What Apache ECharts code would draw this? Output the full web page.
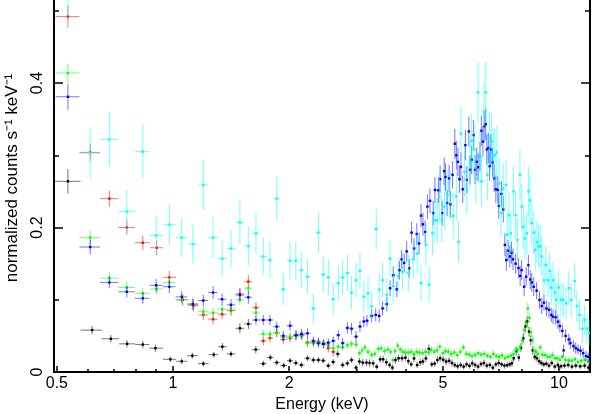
<!DOCTYPE html>
<html>
<head>
<meta charset="utf-8">
<script src="https://cdn.jsdelivr.net/npm/echarts@6/dist/echarts.min.js"></script>
<style>
  html, body { margin: 0; padding: 0; background: #fff; }
  #chart { width: 592px; height: 414px; }
</style>
</head>
<body>
<div id="chart"></div>
<script>
// energy (keV), normalized counts, 1-sigma error  -- one set per data group
const blackE = [
  0.534, 0.617, 0.69, 0.76, 0.835, 0.90, 0.984, 1.053, 1.122, 1.198,
  1.275, 1.342, 1.413, 1.49, 1.567, 1.638, 1.713, 1.787, 1.856, 1.935,
  2.01, 2.08, 2.15, 2.23, 2.31, 2.38, 2.45, 2.525, 2.6, 2.67,
  2.75, 2.83, 2.9, 2.98, 3.04, 3.1, 3.17, 3.23, 3.3, 3.37,
  3.44, 3.5, 3.57, 3.64, 3.7, 3.77, 3.84, 3.92, 4.0, 4.07,
  4.14, 4.21, 4.29, 4.37, 4.44, 4.52, 4.6, 4.68, 4.76, 4.84,
  4.92, 5.01, 5.1, 5.19, 5.28, 5.37, 5.46, 5.56, 5.66, 5.76,
  5.86, 5.96, 6.06, 6.17, 6.28, 6.39, 6.5, 6.62, 6.74, 6.86,
  6.98, 7.1, 7.22, 7.34, 7.45, 7.55, 7.63, 7.75, 7.87, 7.97,
  8.08, 8.18, 8.27, 8.36, 8.45, 8.55, 8.65, 8.76, 8.88, 9.0,
  9.13, 9.27, 9.42, 9.58, 9.75, 9.93, 10.12, 10.33, 10.56, 10.8,
  11.05, 11.35, 11.65, 11.92
];
const blackV = [
  0.264, 0.058, 0.046, 0.039, 0.038, 0.033, 0.0176, 0.0148, 0.0226, 0.0115,
  0.024, 0.035, 0.025, 0.0605, 0.0665, 0.031, 0.0115, 0.020, 0.013, 0.009,
  0.0157, 0.0125, 0.0097, 0.019, 0.0166, 0.0166, 0.0157, 0.0087, 0.0139, 0.025,
  0.0097, 0.012, 0.0166, 0.006, 0.0145, 0.013, 0.013, 0.0125, 0.012, 0.0073,
  0.0175, 0.0176, 0.0135, 0.0097, 0.006, 0.0166, 0.019, 0.019, 0.0199, 0.015,
  0.0106, 0.0188, 0.0097, 0.0135, 0.0145, 0.0188, 0.032, 0.0106, 0.0115, 0.0166,
  0.019, 0.017, 0.0145, 0.0155, 0.0125, 0.0097, 0.008, 0.0097, 0.0075, 0.0106,
  0.0085, 0.012, 0.0097, 0.0075, 0.011, 0.0125, 0.0088, 0.0097, 0.006, 0.0106,
  0.0125, 0.0106, 0.0088, 0.0095, 0.0106, 0.012, 0.019, 0.029, 0.02, 0.0337,
  0.0466, 0.063, 0.07, 0.056, 0.044, 0.03, 0.021, 0.019, 0.015, 0.0125,
  0.0106, 0.0115, 0.0088, 0.0125, 0.0075, 0.0097, 0.008, 0.0088, 0.0097, 0.0075,
  0.0088, 0.0079, 0.0088, 0.0061
];
const blackErr = [
  0.017, 0.006, 0.005, 0.005, 0.005, 0.005, 0.004, 0.004, 0.004, 0.004,
  0.004, 0.005, 0.004, 0.007, 0.007, 0.005, 0.004, 0.004, 0.004, 0.004,
  0.004, 0.004, 0.004, 0.004, 0.004, 0.004, 0.004, 0.004, 0.004, 0.005,
  0.004, 0.004, 0.004, 0.004, 0.005, 0.005, 0.005, 0.005, 0.005, 0.004,
  0.005, 0.005, 0.005, 0.004, 0.004, 0.005, 0.005, 0.005, 0.005, 0.005,
  0.004, 0.005, 0.004, 0.005, 0.005, 0.005, 0.006, 0.004, 0.004, 0.005,
  0.005, 0.005, 0.005, 0.005, 0.005, 0.004, 0.004, 0.004, 0.004, 0.004,
  0.004, 0.005, 0.004, 0.004, 0.004, 0.005, 0.004, 0.004, 0.004, 0.004,
  0.005, 0.004, 0.004, 0.004, 0.004, 0.005, 0.005, 0.006, 0.005, 0.006,
  0.007, 0.008, 0.008, 0.007, 0.007, 0.006, 0.005, 0.005, 0.005, 0.004,
  0.004, 0.004, 0.004, 0.004, 0.004, 0.004, 0.004, 0.004, 0.004, 0.004,
  0.004, 0.004, 0.004, 0.004
];

const redE = [
  0.534, 0.61, 0.684, 0.759, 0.835, 0.907, 0.978, 1.06, 1.13, 1.198,
  1.27, 1.34, 1.413, 1.49, 1.567, 1.64, 1.713, 1.783, 1.856, 1.93,
  2.01, 2.09, 2.16, 2.23, 2.31, 2.38, 2.46, 2.525, 2.6
];
const redV = [
  0.492, 0.304, 0.24, 0.20, 0.179, 0.172, 0.131, 0.10, 0.092, 0.079,
  0.073, 0.080, 0.085, 0.108, 0.125, 0.089, 0.043, 0.047, 0.054, 0.045,
  0.047, 0.051, 0.051, 0.041, 0.041, 0.042, 0.039, 0.033, 0.028
];
const redErr = [
  0.015, 0.012, 0.011, 0.010, 0.010, 0.010, 0.009, 0.008, 0.008, 0.007,
  0.007, 0.007, 0.007, 0.008, 0.009, 0.008, 0.006, 0.006, 0.006, 0.006,
  0.006, 0.006, 0.006, 0.006, 0.006, 0.006, 0.006, 0.006, 0.006
];

const greenE = [
  0.534, 0.61, 0.684, 0.759, 0.835, 0.907, 0.978, 1.053, 1.125, 1.198,
  1.27, 1.34, 1.413, 1.49, 1.567, 1.64, 1.713, 1.783, 1.856, 1.93,
  2.01, 2.08, 2.15, 2.23, 2.31, 2.38, 2.45, 2.525, 2.6, 2.68,
  2.75, 2.83, 2.9, 2.98, 3.04, 3.09, 3.14, 3.2, 3.27, 3.33,
  3.4, 3.46, 3.53, 3.6, 3.66, 3.71, 3.76, 3.82, 3.88, 3.94,
  4.0, 4.07, 4.14, 4.21, 4.28, 4.35, 4.43, 4.51, 4.59, 4.67,
  4.75, 4.83, 4.91, 5.0, 5.08, 5.17, 5.26, 5.35, 5.45, 5.55,
  5.65, 5.75, 5.85, 5.95, 6.06, 6.17, 6.28, 6.4, 6.52, 6.64,
  6.76, 6.88, 7.0, 7.12, 7.25, 7.38, 7.5, 7.62, 7.72, 7.82,
  7.93, 8.03, 8.13, 8.22, 8.3, 8.38, 8.46, 8.54, 8.62, 8.72,
  8.82, 8.94, 9.06, 9.2, 9.34, 9.48, 9.62, 9.76, 9.9, 10.05,
  10.2, 10.4, 10.6, 10.8, 11.0, 11.2, 11.42, 11.65, 11.9
];
const greenV = [
  0.414, 0.186, 0.13, 0.117, 0.109, 0.115, 0.124, 0.10, 0.094, 0.0835,
  0.082, 0.087, 0.086, 0.10, 0.116, 0.082, 0.0526, 0.0526, 0.0545, 0.048,
  0.049, 0.05, 0.05, 0.0397, 0.0397, 0.042, 0.04, 0.037, 0.033, 0.035,
  0.034, 0.037, 0.039, 0.038, 0.026, 0.030, 0.034, 0.028, 0.0235, 0.025,
  0.032, 0.033, 0.029, 0.031, 0.028, 0.0166, 0.029, 0.0365, 0.031, 0.028,
  0.027, 0.027, 0.028, 0.025, 0.028, 0.027, 0.026, 0.028, 0.027, 0.0305,
  0.028, 0.03, 0.035, 0.026, 0.029, 0.028, 0.025, 0.027, 0.0235, 0.028,
  0.034, 0.025, 0.024, 0.022, 0.0235, 0.026, 0.024, 0.025, 0.0225, 0.021,
  0.025, 0.022, 0.021, 0.023, 0.019, 0.021, 0.0226, 0.025, 0.0305, 0.031,
  0.035, 0.044, 0.058, 0.0675, 0.088, 0.075, 0.055, 0.044, 0.03, 0.028,
  0.025, 0.034, 0.024, 0.0235, 0.021, 0.021, 0.0235, 0.019, 0.019, 0.017,
  0.021, 0.0166, 0.016, 0.0157, 0.0176, 0.014, 0.0157, 0.0166, 0.014
];
const greenErr = [
  0.013, 0.010, 0.008, 0.008, 0.008, 0.008, 0.008, 0.007, 0.007, 0.007,
  0.007, 0.007, 0.007, 0.008, 0.008, 0.007, 0.006, 0.006, 0.006, 0.006,
  0.006, 0.006, 0.006, 0.005, 0.005, 0.005, 0.005, 0.005, 0.005, 0.005,
  0.005, 0.005, 0.005, 0.005, 0.005, 0.005, 0.005, 0.005, 0.005, 0.005,
  0.005, 0.005, 0.005, 0.005, 0.005, 0.004, 0.005, 0.005, 0.005, 0.005,
  0.005, 0.005, 0.005, 0.005, 0.005, 0.005, 0.005, 0.005, 0.005, 0.005,
  0.005, 0.005, 0.005, 0.005, 0.005, 0.005, 0.005, 0.005, 0.005, 0.005,
  0.005, 0.005, 0.005, 0.004, 0.005, 0.005, 0.004, 0.005, 0.004, 0.004,
  0.005, 0.004, 0.004, 0.005, 0.004, 0.004, 0.005, 0.005, 0.005, 0.005,
  0.006, 0.006, 0.007, 0.007, 0.008, 0.007, 0.007, 0.006, 0.005, 0.005,
  0.005, 0.005, 0.005, 0.005, 0.004, 0.004, 0.005, 0.004, 0.004, 0.004,
  0.004, 0.004, 0.004, 0.004, 0.004, 0.004, 0.004, 0.004, 0.004
];

const blueE = [
  0.534, 0.61, 0.684, 0.759, 0.835, 0.904, 0.978, 1.053, 1.125, 1.198,
  1.27, 1.34, 1.413, 1.49, 1.567, 1.64, 1.713, 1.783, 1.856, 1.93,
  2.01, 2.08, 2.15, 2.23, 2.31, 2.38, 2.45, 2.525, 2.6, 2.68,
  2.75, 2.83, 2.9, 2.98, 3.05, 3.12, 3.18, 3.27, 3.35, 3.42,
  3.49, 3.58, 3.65, 3.72, 3.8, 3.86, 3.91, 3.97, 4.03, 4.09,
  4.15, 4.21, 4.28, 4.34, 4.39, 4.44, 4.5, 4.56, 4.63, 4.72,
  4.77, 4.87, 4.92, 4.98, 5.04, 5.08, 5.13, 5.19, 5.23, 5.3,
  5.37, 5.42, 5.47, 5.52, 5.57, 5.63, 5.72, 5.77, 5.84, 5.88,
  5.94, 6.01, 6.06, 6.12, 6.17, 6.24, 6.29, 6.35, 6.4, 6.46,
  6.5, 6.56, 6.61, 6.66, 6.73, 6.79, 6.86, 6.94, 6.98, 7.09,
  7.17, 7.24, 7.3, 7.38, 7.46, 7.53, 7.6, 7.72, 7.85, 7.93,
  8.0, 8.12, 8.22, 8.33, 8.42, 8.5, 8.6, 8.75, 8.9, 9.02,
  9.14, 9.28, 9.42, 9.55, 9.65, 9.8, 9.93, 10.05, 10.2, 10.28,
  10.4, 10.6, 10.7, 10.9, 11.05, 11.2, 11.37, 11.55, 11.75, 11.9
];
const blueV = [
  0.381, 0.173, 0.124, 0.111, 0.102, 0.12, 0.118, 0.104, 0.094, 0.099,
  0.11, 0.1007, 0.093, 0.1066, 0.1034, 0.072, 0.072, 0.072, 0.0628, 0.05,
  0.064, 0.051, 0.0526, 0.0535, 0.043, 0.0397, 0.0388, 0.0406, 0.043, 0.051,
  0.04, 0.061, 0.06, 0.049, 0.063, 0.07, 0.071, 0.0776, 0.079, 0.0776,
  0.088, 0.094, 0.116, 0.134, 0.1145, 0.141, 0.156, 0.151, 0.167, 0.1436,
  0.193, 0.171, 0.191, 0.178, 0.2165, 0.2045, 0.194, 0.229, 0.237, 0.22,
  0.252, 0.2516, 0.267, 0.22, 0.278, 0.27, 0.234, 0.268, 0.232, 0.273,
  0.316, 0.30, 0.291, 0.267, 0.284, 0.253, 0.314, 0.266, 0.333, 0.28,
  0.294, 0.328, 0.28, 0.291, 0.2835, 0.298, 0.334, 0.319, 0.34, 0.343,
  0.308, 0.31, 0.285, 0.308, 0.29, 0.268, 0.253, 0.252, 0.23, 0.2465,
  0.225, 0.176, 0.155, 0.168, 0.16, 0.165, 0.156, 0.15, 0.144, 0.133,
  0.141, 0.118, 0.132, 0.148, 0.128, 0.124, 0.118, 0.1126, 0.0997, 0.0914,
  0.096, 0.088, 0.086, 0.079, 0.0766, 0.0757, 0.0697, 0.0637, 0.057, 0.03,
  0.05, 0.045, 0.04, 0.036, 0.033, 0.031, 0.0295, 0.026, 0.022, 0.021
];
const blueErr = [
  0.018, 0.010, 0.008, 0.008, 0.008, 0.009, 0.009, 0.008, 0.008, 0.008,
  0.009, 0.008, 0.008, 0.009, 0.009, 0.007, 0.007, 0.007, 0.007, 0.007,
  0.007, 0.007, 0.007, 0.007, 0.006, 0.006, 0.006, 0.006, 0.006, 0.007,
  0.007, 0.008, 0.008, 0.008, 0.008, 0.008, 0.008, 0.009, 0.009, 0.009,
  0.010, 0.010, 0.011, 0.012, 0.011, 0.013, 0.013, 0.013, 0.014, 0.013,
  0.015, 0.014, 0.015, 0.015, 0.016, 0.016, 0.016, 0.017, 0.017, 0.017,
  0.018, 0.018, 0.019, 0.017, 0.019, 0.019, 0.018, 0.019, 0.018, 0.019,
  0.021, 0.020, 0.020, 0.019, 0.020, 0.019, 0.021, 0.019, 0.021, 0.020,
  0.020, 0.021, 0.020, 0.020, 0.020, 0.020, 0.021, 0.021, 0.022, 0.022,
  0.021, 0.021, 0.020, 0.021, 0.020, 0.019, 0.019, 0.019, 0.018, 0.018,
  0.018, 0.016, 0.015, 0.015, 0.015, 0.015, 0.015, 0.014, 0.014, 0.014,
  0.014, 0.013, 0.013, 0.014, 0.013, 0.013, 0.013, 0.012, 0.012, 0.011,
  0.011, 0.011, 0.011, 0.010, 0.010, 0.010, 0.010, 0.009, 0.009, 0.008,
  0.009, 0.008, 0.008, 0.008, 0.008, 0.007, 0.007, 0.007, 0.007, 0.007
];

const cyanE = [
  0.534, 0.61, 0.684, 0.759, 0.835, 0.904, 0.978, 1.053, 1.125, 1.198,
  1.27, 1.34, 1.413, 1.49, 1.567, 1.64, 1.713, 1.783, 1.856, 1.93,
  2.01, 2.08, 2.15, 2.23, 2.31, 2.38, 2.45, 2.525, 2.6, 2.68,
  2.75, 2.83, 2.9, 2.98, 3.05, 3.12, 3.2, 3.27, 3.36, 3.42,
  3.49, 3.58, 3.65, 3.72, 3.83, 3.93, 4.07, 4.19, 4.29, 4.39,
  4.52, 4.61, 4.7, 4.77, 4.84, 4.9, 4.97, 5.05, 5.13, 5.22,
  5.32, 5.42, 5.49, 5.57, 5.69, 5.77, 5.88, 5.94, 6.02, 6.09,
  6.17, 6.24, 6.3, 6.39, 6.46, 6.52, 6.6, 6.69, 6.75, 6.82,
  6.9, 7.0, 7.08, 7.17, 7.29, 7.34, 7.42, 7.5, 7.62, 7.72,
  7.8, 7.92, 8.0, 8.08, 8.16, 8.25, 8.33, 8.41, 8.5, 8.6,
  8.68, 8.76, 8.85, 8.94, 9.02, 9.14, 9.24, 9.36, 9.46, 9.55,
  9.65, 9.76, 9.84, 9.98, 10.12, 10.26, 10.43, 10.6, 10.76, 10.98,
  11.12, 11.3, 11.5, 11.65, 11.82, 11.96
];
const cyanV = [
  0.57, 0.303, 0.322, 0.222, 0.305, 0.189, 0.204, 0.186, 0.177, 0.259,
  0.186, 0.157, 0.171, 0.207, 0.1745, 0.192, 0.16, 0.155, 0.24, 0.1145,
  0.154, 0.154, 0.141, 0.132, 0.088, 0.193, 0.135, 0.131, 0.1007, 0.123,
  0.131, 0.137, 0.11, 0.127, 0.14, 0.104, 0.109, 0.091, 0.198, 0.114,
  0.127, 0.107, 0.157, 0.119, 0.133, 0.139, 0.1375, 0.156, 0.164, 0.123,
  0.176, 0.121, 0.192, 0.21, 0.21, 0.243, 0.21, 0.229, 0.247, 0.245,
  0.216, 0.243, 0.18, 0.33, 0.277, 0.252, 0.29, 0.32, 0.308, 0.268,
  0.387, 0.298, 0.264, 0.36, 0.387, 0.273, 0.323, 0.319, 0.30, 0.30,
  0.304, 0.261, 0.22, 0.254, 0.259, 0.19, 0.217, 0.192, 0.25, 0.217,
  0.183, 0.273, 0.229, 0.201, 0.185, 0.192, 0.25, 0.238, 0.206, 0.193,
  0.169, 0.18, 0.174, 0.174, 0.16, 0.127, 0.148, 0.127, 0.14, 0.117,
  0.127, 0.11, 0.10, 0.117, 0.10, 0.0997, 0.095, 0.116, 0.0997, 0.126,
  0.0914, 0.079, 0.06, 0.072, 0.06, 0.054
];
const cyanErr = [
  0.08, 0.036, 0.038, 0.030, 0.037, 0.028, 0.028, 0.027, 0.027, 0.035,
  0.028, 0.025, 0.026, 0.030, 0.027, 0.028, 0.026, 0.026, 0.030, 0.022,
  0.026, 0.026, 0.025, 0.024, 0.020, 0.028, 0.025, 0.025, 0.022, 0.024,
  0.024, 0.025, 0.023, 0.024, 0.025, 0.022, 0.023, 0.021, 0.028, 0.023,
  0.024, 0.023, 0.026, 0.024, 0.025, 0.025, 0.026, 0.027, 0.028, 0.025,
  0.029, 0.025, 0.030, 0.031, 0.031, 0.033, 0.031, 0.032, 0.033, 0.033,
  0.032, 0.033, 0.029, 0.038, 0.035, 0.034, 0.036, 0.038, 0.037, 0.035,
  0.042, 0.037, 0.035, 0.040, 0.042, 0.035, 0.038, 0.038, 0.037, 0.037,
  0.037, 0.035, 0.032, 0.034, 0.034, 0.030, 0.032, 0.030, 0.034, 0.032,
  0.030, 0.035, 0.032, 0.031, 0.030, 0.030, 0.034, 0.033, 0.031, 0.030,
  0.028, 0.029, 0.029, 0.029, 0.028, 0.025, 0.027, 0.025, 0.026, 0.024,
  0.025, 0.024, 0.023, 0.024, 0.023, 0.023, 0.022, 0.024, 0.023, 0.025,
  0.022, 0.021, 0.019, 0.020, 0.019, 0.018
];

// axis ticks
const xMajor = [0.5, 1, 2, 5, 10];
const xMinor = [0.6, 0.7, 0.8, 0.9, 3, 4, 6, 7, 8, 9];
const yMajor = [0, 0.2, 0.4];
const yMinor = [0.1, 0.3, 0.5];

const X_MIN = 0.4915, X_MAX = 12.03, Y_MAX = 0.515;
const FONT = 'Liberation Sans, Arial, sans-serif';

// bin edges = midpoints between neighbouring channel centres
function toRows(e, v, err) {
  return e.map((x, i) => {
    const lo = i > 0 ? (e[i - 1] + x) / 2 : x - (e[i + 1] - x) / 2;
    const hi = i < e.length - 1 ? (x + e[i + 1]) / 2 : x + (x - e[i - 1]) / 2;
    return [x, lo, hi, v[i], err[i]];
  });
}

function renderItem(params, api) {
  const x = api.value(0), y = api.value(3), dy = api.value(4);
  const color = api.visual('color');
  const a = api.coord([api.value(1), y]);
  const b = api.coord([api.value(2), y]);
  const t = api.coord([x, y + dy]);
  const d = api.coord([x, y - dy]);
  const c = api.coord([x, y]);
  const barStyle = { stroke: color, lineWidth: 1, opacity: 0.55 };
  return {
    type: 'group',
    children: [
      { type: 'line', shape: { x1: a[0], y1: a[1], x2: b[0], y2: b[1] }, style: barStyle },
      { type: 'line', shape: { x1: t[0], y1: t[1], x2: d[0], y2: d[1] }, style: barStyle },
      { type: 'rect', shape: { x: c[0] - 1.2, y: c[1] - 1.2, width: 2.4, height: 2.4 }, style: { fill: color } }
    ]
  };
}

function groupSeries(name, color, e, v, err) {
  return {
    name: name,
    type: 'custom',
    coordinateSystem: 'cartesian2d',
    xAxisIndex: 0,
    yAxisIndex: 0,
    renderItem: renderItem,
    itemStyle: { color: color },
    encode: { x: 0, y: 3 },
    clip: true,
    silent: true,
    data: toRows(e, v, err)
  };
}

const tickLine = { color: '#000', width: 1.5 };
const noLabel = { show: false };

const chart = echarts.init(document.getElementById('chart'), null, { renderer: 'canvas' });
chart.setOption({
  animation: false,
  backgroundColor: '#fff',
  grid: { left: 54, right: 2, top: 0, bottom: 42, containLabel: false, outerBoundsMode: 'none' },
  xAxis: [
    {
      type: 'log', logBase: 10, min: X_MIN, max: X_MAX, position: 'bottom',
      axisLine: { show: true, lineStyle: { color: '#000', width: 2 } },
      axisTick: { show: true, inside: true, length: 6, lineStyle: tickLine, customValues: xMajor },
      axisLabel: {
        customValues: xMajor, color: '#000', fontSize: 16, fontFamily: FONT, margin: 4,
        formatter: v => String(v)
      },
      splitLine: { show: false },
      name: 'Energy (keV)', nameLocation: 'middle', nameGap: 25,
      nameTextStyle: { color: '#000', fontSize: 16, fontFamily: FONT }
    },
    {
      type: 'log', logBase: 10, min: X_MIN, max: X_MAX, position: 'bottom',
      axisLine: { show: false },
      axisTick: { show: true, inside: true, length: 3, lineStyle: tickLine, customValues: xMinor },
      axisLabel: noLabel, splitLine: { show: false }
    }
  ],
  yAxis: [
    {
      type: 'value', min: 0, max: Y_MAX, position: 'left',
      axisLine: { show: true, lineStyle: { color: '#000', width: 2 } },
      axisTick: { show: true, inside: true, length: 9, lineStyle: tickLine, customValues: yMajor },
      axisLabel: {
        customValues: yMajor, rotate: 90, color: '#000', fontSize: 16, fontFamily: FONT, margin: 8,
        formatter: v => String(v)
      },
      splitLine: { show: false },
      name: 'normalized counts s⁻¹ keV⁻¹', nameLocation: 'middle', nameGap: 33, nameRotate: 90,
      nameTextStyle: { color: '#000', fontSize: 17, fontFamily: FONT, padding: [0, 0, 0, 16] }
    },
    {
      type: 'value', min: 0, max: Y_MAX, position: 'left',
      axisLine: { show: false },
      axisTick: { show: true, inside: true, length: 5, lineStyle: tickLine, customValues: yMinor },
      axisLabel: noLabel, splitLine: { show: false }
    },
    {
      type: 'value', min: 0, max: Y_MAX, position: 'right',
      axisLine: { show: true, lineStyle: { color: '#000', width: 2 } },
      axisTick: { show: true, inside: true, length: 9, lineStyle: tickLine, customValues: yMajor },
      axisLabel: noLabel, splitLine: { show: false }
    },
    {
      type: 'value', min: 0, max: Y_MAX, position: 'right',
      axisLine: { show: false },
      axisTick: { show: true, inside: true, length: 5, lineStyle: tickLine, customValues: yMinor },
      axisLabel: noLabel, splitLine: { show: false }
    }
  ],
  series: [
    groupSeries('black', '#000000', blackE, blackV, blackErr),
    groupSeries('red', '#ff0000', redE, redV, redErr),
    groupSeries('green', '#00ff00', greenE, greenV, greenErr),
    groupSeries('blue', '#0000ff', blueE, blueV, blueErr),
    groupSeries('cyan', '#00ffff', cyanE, cyanV, cyanErr)
  ]
});
</script>
</body>
</html>
